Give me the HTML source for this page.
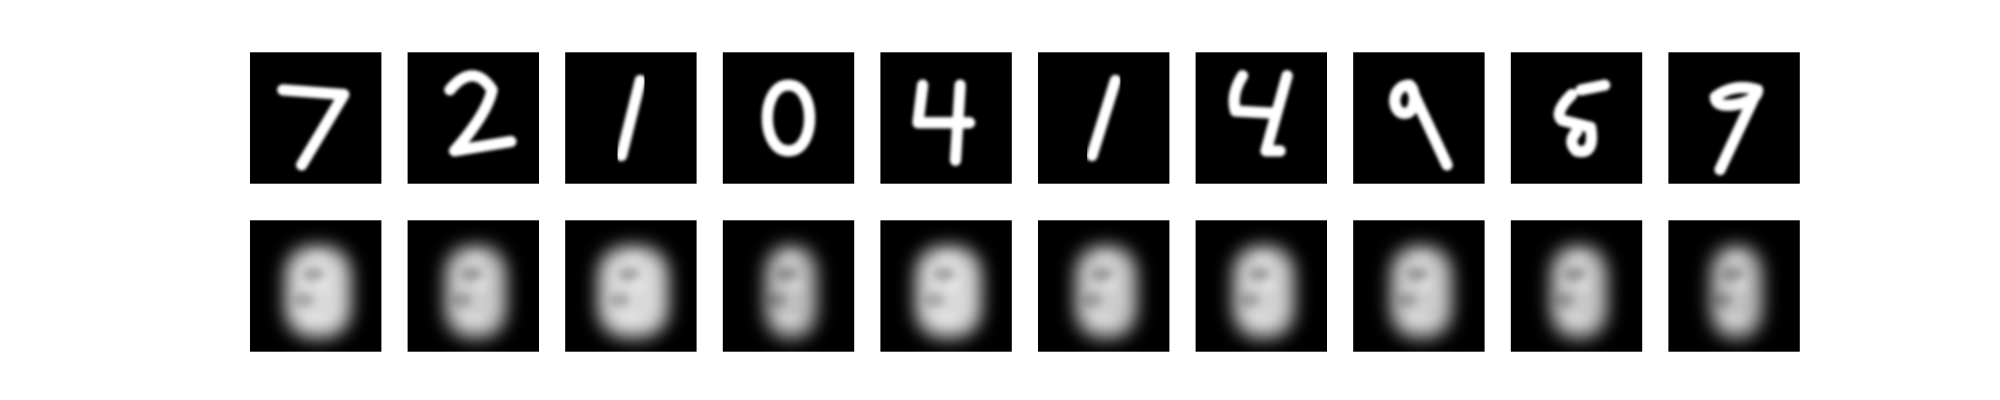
<!DOCTYPE html>
<html><head><meta charset="utf-8">
<style>
html,body{margin:0;padding:0;background:#fff;}
svg{display:block;}
</style></head>
<body>
<svg id="fig" width="2000" height="400" viewBox="0 0 2000 400" xmlns="http://www.w3.org/2000/svg">
<defs>
<filter id="sb" x="-20%" y="-20%" width="140%" height="140%"><feGaussianBlur stdDeviation="0.35"/></filter>
<filter id="bb" x="-50%" y="-50%" width="200%" height="200%"><feGaussianBlur stdDeviation="1.9"/></filter>
<filter id="bs" x="-50%" y="-50%" width="200%" height="200%"><feGaussianBlur stdDeviation="0.8"/></filter>
</defs>
<g id="panels"></g>
</svg>
<script>
const labels = ['7','2','1','0','4','1','4','9','5','9'];
const digitPaths = [
 'M7 8 L20 9 L11 24',
 'M9 8 Q14 2 18 8 Q17 13 10 21 L22 19',
 'M16 6 L12 22',
 'M14 7 C20 7 20 21 14 21 C8 21 8 7 14 7',
 'M9 7 L8 15 L19 15 M17 7 L16 23',
 'M16.5 6 L11.5 22',
 'M10 5 Q7.5 9 8.5 12.5 L17 13 M19.5 5 L15 21 L18 21',
 'M12 7 C8 7 8 13 11 13 C13.5 13 13.5 8 12 7 L20 24',
 'M15 8 L20 7 M13 9 Q9 13 11 14.5 L17 16 Q18 22 14 21 Q12 19 14 17',
 'M19 8 Q14 6.5 10 9.5 Q10 12 15 11 Q19 10 19 8 L11 25'
];
const recOpacity = [0.85,0.8,0.85,0.75,0.85,0.8,0.82,0.8,0.78,0.75];
const recWidth = [14,13,15,11,14,13,13,13,12,11];
const NS='http://www.w3.org/2000/svg';
const g=document.getElementById('panels');
const left=250, step=157.6, size=131.4, top1=52.3, top2=220.3;
function mk(t,a){const e=document.createElementNS(NS,t);for(const k in a)e.setAttribute(k,a[k]);return e;}
labels.forEach((lab,i)=>{
  const x=left+i*step;
  const p=mk('g',{transform:`translate(${x},${top1}) scale(${size/28})`});
  
  
  p.appendChild(mk('rect',{x:0,y:0,width:28,height:28,fill:'#000'}));
  p.appendChild(mk('path',{d:digitPaths[i],fill:'none',stroke:'#fff','stroke-width':2.4,'stroke-linecap':'round','stroke-linejoin':'round',filter:'url(#sb)'}));
  g.appendChild(p);
  const r=mk('g',{transform:`translate(${x},${top2}) scale(${size/28})`});
  
  
  r.appendChild(mk('rect',{x:0,y:0,width:28,height:28,fill:'#000'}));
  const w=recWidth[i];
  r.appendChild(mk('rect',{x:14.5-w/2,y:5.5,width:w,height:19.5,rx:w/2.4,ry:6,fill:'#fff','fill-opacity':recOpacity[i],filter:'url(#bb)'}));
  r.appendChild(mk('ellipse',{cx:13.5,cy:11.5,rx:2.2,ry:1.5,fill:'#000','fill-opacity':0.22,filter:'url(#bs)'}));
  r.appendChild(mk('ellipse',{cx:11.5,cy:17,rx:2.2,ry:1.6,fill:'#000','fill-opacity':0.2,filter:'url(#bs)'}));
  r.appendChild(mk('ellipse',{cx:15.5,cy:14,rx:1.5,ry:1.5,fill:'#fff','fill-opacity':0.25,filter:'url(#bs)'}));
  r.appendChild(mk('ellipse',{cx:14.5,cy:8,rx:2,ry:1.2,fill:'#fff','fill-opacity':0.2,filter:'url(#bs)'}));
  r.appendChild(mk('ellipse',{cx:14,cy:21,rx:2.5,ry:1.2,fill:'#fff','fill-opacity':0.2,filter:'url(#bs)'}));
  g.appendChild(r);
});
</script>
</body></html>
